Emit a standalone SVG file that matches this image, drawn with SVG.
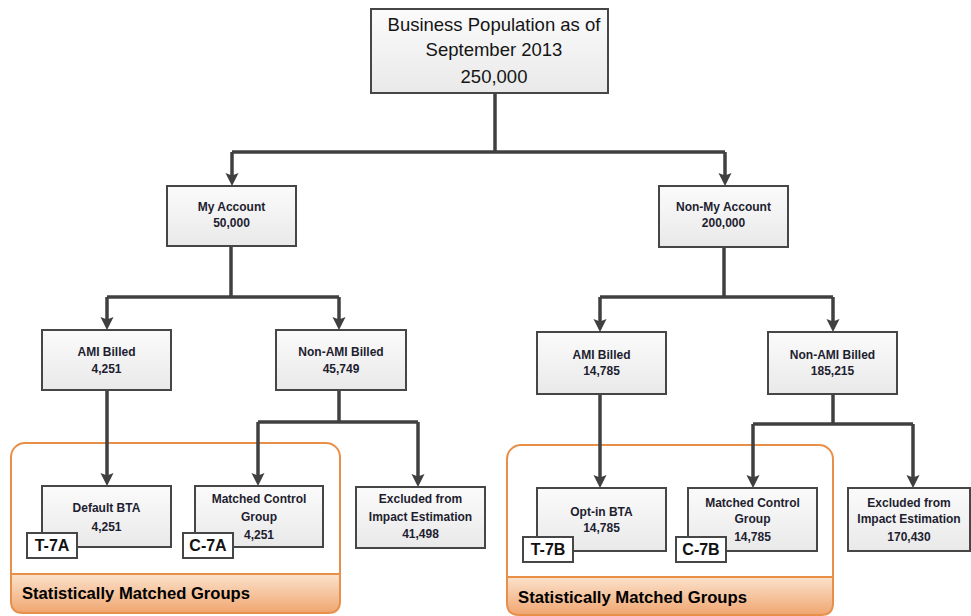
<svg xmlns="http://www.w3.org/2000/svg" width="971" height="616" viewBox="0 0 971 616">
<defs>
<linearGradient id="boxg" x1="0" y1="0" x2="0" y2="1">
<stop offset="0" stop-color="#fbfbfb"/>
<stop offset="1" stop-color="#e9e9e9"/>
</linearGradient>
<linearGradient id="bandg" x1="0" y1="0" x2="0" y2="1">
<stop offset="0" stop-color="#fbe2cc"/>
<stop offset="1" stop-color="#f0a670"/>
</linearGradient>
<marker id="arr" markerUnits="userSpaceOnUse" markerWidth="14" markerHeight="14" viewBox="0 -7 14 14" refX="5" refY="0" orient="auto">
<path d="M0,-6.5 L13,0 L0,6.5 L2.5,0 Z" fill="#404040"/>
</marker>
<style>
.box{fill:url(#boxg);stroke:#464646;stroke-width:2}
.lbl{fill:#ffffff;stroke:#464646;stroke-width:2}
.t{font-family:"Liberation Sans",Arial,sans-serif;font-weight:bold;font-size:12px;fill:#1e1e30;text-anchor:middle}
.big{font-family:"Liberation Sans",Arial,sans-serif;font-size:18.5px;fill:#151515;text-anchor:middle}
.tag{font-family:"Liberation Sans",Arial,sans-serif;font-weight:bold;font-size:16px;fill:#111;text-anchor:middle}
.grp{font-family:"Liberation Sans",Arial,sans-serif;font-weight:bold;font-size:17px;fill:#000}
.c{fill:none;stroke:#404040;stroke-width:3.5}
.outline{fill:#fff;stroke:#e8904a;stroke-width:2}
.band{fill:url(#bandg);stroke:#e8904a;stroke-width:2}
</style>
</defs>
<rect width="971" height="616" fill="#ffffff"/>

<g id="group-left">
<rect class="outline" x="11" y="443" width="329" height="170" rx="14"/>
<path class="band" d="M11,574 H340 V601 Q340,613 328,613 H23 Q11,613 11,601 Z"/>
<text class="grp" x="22" y="599" textLength="228" lengthAdjust="spacingAndGlyphs">Statistically Matched Groups</text>
</g>
<g id="group-right">
<rect class="outline" x="507" y="445" width="326" height="170" rx="14"/>
<path class="band" d="M507,577 H833 V603 Q833,615 821,615 H519 Q507,615 507,603 Z"/>
<text class="grp" x="518" y="603" textLength="229" lengthAdjust="spacingAndGlyphs">Statistically Matched Groups</text>
</g>

<g id="connectors">
<path class="c" d="M495,93 V152"/>
<path class="c" d="M232,152 H725"/>
<path class="c" d="M232,152 V178" marker-end="url(#arr)"/>
<path class="c" d="M725,152 V178" marker-end="url(#arr)"/>
<path class="c" d="M231,246 V297"/>
<path class="c" d="M107,297 H339"/>
<path class="c" d="M107,297 V322" marker-end="url(#arr)"/>
<path class="c" d="M339,297 V322" marker-end="url(#arr)"/>
<path class="c" d="M724,247 V297"/>
<path class="c" d="M600,297 H833"/>
<path class="c" d="M600,297 V324" marker-end="url(#arr)"/>
<path class="c" d="M833,297 V324" marker-end="url(#arr)"/>
<path class="c" d="M107,390 V478" marker-end="url(#arr)"/>
<path class="c" d="M339,390 V422"/>
<path class="c" d="M258,422 H418"/>
<path class="c" d="M258,422 V478" marker-end="url(#arr)"/>
<path class="c" d="M418,422 V479" marker-end="url(#arr)"/>
<path class="c" d="M600,394 V480" marker-end="url(#arr)"/>
<path class="c" d="M833,394 V424"/>
<path class="c" d="M753,424 H913"/>
<path class="c" d="M753,424 V480" marker-end="url(#arr)"/>
<path class="c" d="M913,424 V480" marker-end="url(#arr)"/>
</g>

<g id="n-top">
<rect class="box" x="371" y="9" width="237" height="84"/>
<text class="big" x="494" y="31">Business Population as of</text>
<text class="big" x="494" y="56">September 2013</text>
<text class="big" x="494" y="83">250,000</text>
</g>
<g id="n-myaccount">
<rect class="box" x="167" y="186" width="129" height="60"/>
<text class="t" x="231.5" y="211">My Account</text>
<text class="t" x="231.5" y="227">50,000</text>
</g>
<g id="n-nonmyaccount">
<rect class="box" x="659" y="186" width="129" height="61"/>
<text class="t" x="723.5" y="211">Non-My Account</text>
<text class="t" x="723.5" y="227">200,000</text>
</g>
<g id="n-ami-left">
<rect class="box" x="42" y="330" width="129" height="60"/>
<text class="t" x="106.5" y="356">AMI Billed</text>
<text class="t" x="106.5" y="373">4,251</text>
</g>
<g id="n-nonami-left">
<rect class="box" x="276" y="330" width="130" height="60"/>
<text class="t" x="341" y="356">Non-AMI Billed</text>
<text class="t" x="341" y="373">45,749</text>
</g>
<g id="n-ami-right">
<rect class="box" x="537" y="332" width="129" height="62"/>
<text class="t" x="601.5" y="359">AMI Billed</text>
<text class="t" x="601.5" y="375">14,785</text>
</g>
<g id="n-nonami-right">
<rect class="box" x="768" y="332" width="129" height="62"/>
<text class="t" x="832.5" y="359">Non-AMI Billed</text>
<text class="t" x="832.5" y="375">185,215</text>
</g>
<g id="n-default-bta">
<rect class="box" x="42" y="486" width="129" height="61"/>
<text class="t" x="106.5" y="512">Default BTA</text>
<text class="t" x="106.5" y="531">4,251</text>
<rect class="lbl" x="27" y="533" width="50" height="25"/>
<text class="tag" x="52" y="551">T-7A</text>
</g>
<g id="n-matched-left">
<rect class="box" x="195" y="486" width="128" height="61"/>
<text class="t" x="259" y="503">Matched Control</text>
<text class="t" x="259" y="521">Group</text>
<text class="t" x="259" y="539">4,251</text>
<rect class="lbl" x="183" y="533" width="50" height="25"/>
<text class="tag" x="208" y="551">C-7A</text>
</g>
<g id="n-excluded-left">
<rect class="box" x="356" y="487" width="129" height="61"/>
<text class="t" x="420.5" y="503">Excluded from</text>
<text class="t" x="420.5" y="521">Impact Estimation</text>
<text class="t" x="420.5" y="538">41,498</text>
</g>
<g id="n-optin-bta">
<rect class="box" x="537" y="488" width="129" height="63"/>
<text class="t" x="601.5" y="516">Opt-in BTA</text>
<text class="t" x="601.5" y="532">14,785</text>
<rect class="lbl" x="523" y="537" width="50" height="25"/>
<text class="tag" x="548" y="555">T-7B</text>
</g>
<g id="n-matched-right">
<rect class="box" x="688" y="488" width="129" height="63"/>
<text class="t" x="752.5" y="507">Matched Control</text>
<text class="t" x="752.5" y="523">Group</text>
<text class="t" x="752.5" y="541">14,785</text>
<rect class="lbl" x="676" y="537" width="50" height="25"/>
<text class="tag" x="701" y="555">C-7B</text>
</g>
<g id="n-excluded-right">
<rect class="box" x="848" y="488" width="122" height="63"/>
<text class="t" x="909" y="507">Excluded from</text>
<text class="t" x="909" y="523">Impact Estimation</text>
<text class="t" x="909" y="541">170,430</text>
</g>
</svg>
